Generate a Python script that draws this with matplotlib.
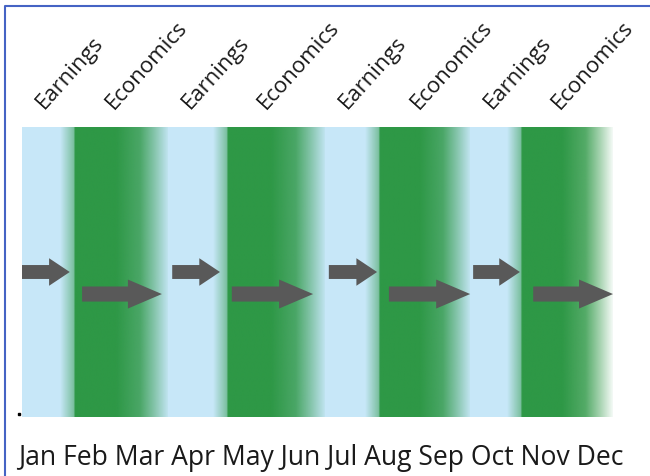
import matplotlib
matplotlib.use("Agg")
import matplotlib.pyplot as plt
import numpy as np
from matplotlib.lines import Line2D

# 数据 (横轴单位: 月, 0 = 一月初)
months = ["Jan", "Feb", "Mar", "Apr", "May", "Jun",
          "Jul", "Aug", "Sep", "Oct", "Nov", "Dec"]
phase_names = ["Earnings", "Economics"]

# 每个季度: 财报季开始, 经济数据季开始, 经济数据季结束
earn_start = [0.0, 2.96, 6.15, 9.10]
econ_start = [1.08, 4.18, 7.27, 10.15]
econ_end = [2.96, 6.15, 9.10, 12.0]

# 箭头起止
short_from = [0.0, 3.05, 6.23, 9.16]
short_to = [0.97, 4.02, 7.21, 10.11]
long_from = [1.22, 4.26, 7.45, 10.38]
long_to = [2.84, 5.91, 9.10, 12.0]

BLUE = np.array([199, 231, 248]) / 255
GREEN = np.array([46, 152, 70]) / 255
ARROW = "#595959"
TEXT = "#1a1a1a"
FONT = "Open Sans"


def green_band(ax, g0, g1):
    """绿色带, 左边与蓝色过渡, 右边逐渐变淡"""
    w = g1 - g0
    xs = np.linspace(g0 - 0.3, g1, 400)
    alpha = np.interp(xs,
                      [g0 - 0.3, g0 - 0.02, g0, g0 + 0.45 * w, g0 + 0.7 * w, g0 + 0.85 * w, g1],
                      [0.0, 0.5, 1.0, 1.0, 0.82, 0.45, 0.05])
    img = np.zeros((1, len(xs), 4))
    img[..., :3] = GREEN
    img[..., 3] = alpha
    ax.imshow(img, extent=[xs[0], xs[-1], 0, 1], aspect="auto",
              interpolation="bilinear", zorder=1)


def main():
    fig = plt.figure(figsize=(6.5, 4.76), dpi=100)
    ax = fig.add_axes([22 / 650, 59 / 476, 591 / 650, 290 / 476])

    # 蓝色底 (最后一个绿色带下面没有)
    ax.axvspan(earn_start[0], econ_start[-1], color=BLUE, lw=0, zorder=0)
    for g0, g1 in zip(econ_start, econ_end):
        green_band(ax, g0, g1)

    # 箭头
    for x0, x1 in zip(short_from, short_to):
        ax.arrow(x0, 0.5, x1 - x0, 0, width=0.048, head_width=0.095,
                 head_length=0.42, length_includes_head=True,
                 fc=ARROW, ec="none", zorder=3)
    for x0, x1 in zip(long_from, long_to):
        ax.arrow(x0, 0.424, x1 - x0, 0, width=0.052, head_width=0.1,
                 head_length=0.69, length_includes_head=True,
                 fc=ARROW, ec="none", zorder=3)

    # 斜着的标签
    for s in earn_start:
        ax.text(s + 0.45, 1.059, phase_names[0], rotation=48, rotation_mode="anchor",
                ha="left", va="baseline", fontsize=16, family=FONT, color=TEXT,
                clip_on=False)
    for s in econ_start:
        ax.text(s + 0.78, 1.059, phase_names[1], rotation=48, rotation_mode="anchor",
                ha="left", va="baseline", fontsize=16, family=FONT, color=TEXT,
                clip_on=False)

    # 左下角的小点
    ax.plot([-0.06], [0.01], "s", ms=1.6, color="k", clip_on=False)

    ax.set_xlim(0, 12)
    ax.set_ylim(0, 1)
    ax.axis("off")

    # 月份
    t = fig.text(18 / 650, 1 - 465 / 476, " ".join(months), ha="left", va="baseline",
                 fontsize=15, family=FONT, color=TEXT)
    fig.canvas.draw()
    bb = t.get_window_extent()
    t.set_fontsize(15 * 605 / bb.width)

    # 蓝色边框 (上边和左边)
    fig.add_artist(Line2D([4.5 / 650, 4.5 / 650, 1.0], [0.0, 1 - 5.5 / 476, 1 - 5.5 / 476],
                          transform=fig.transFigure, color="#4563c4", lw=1.5))

    fig.savefig("out.png", dpi=100)


if __name__ == '__main__':
    main()
